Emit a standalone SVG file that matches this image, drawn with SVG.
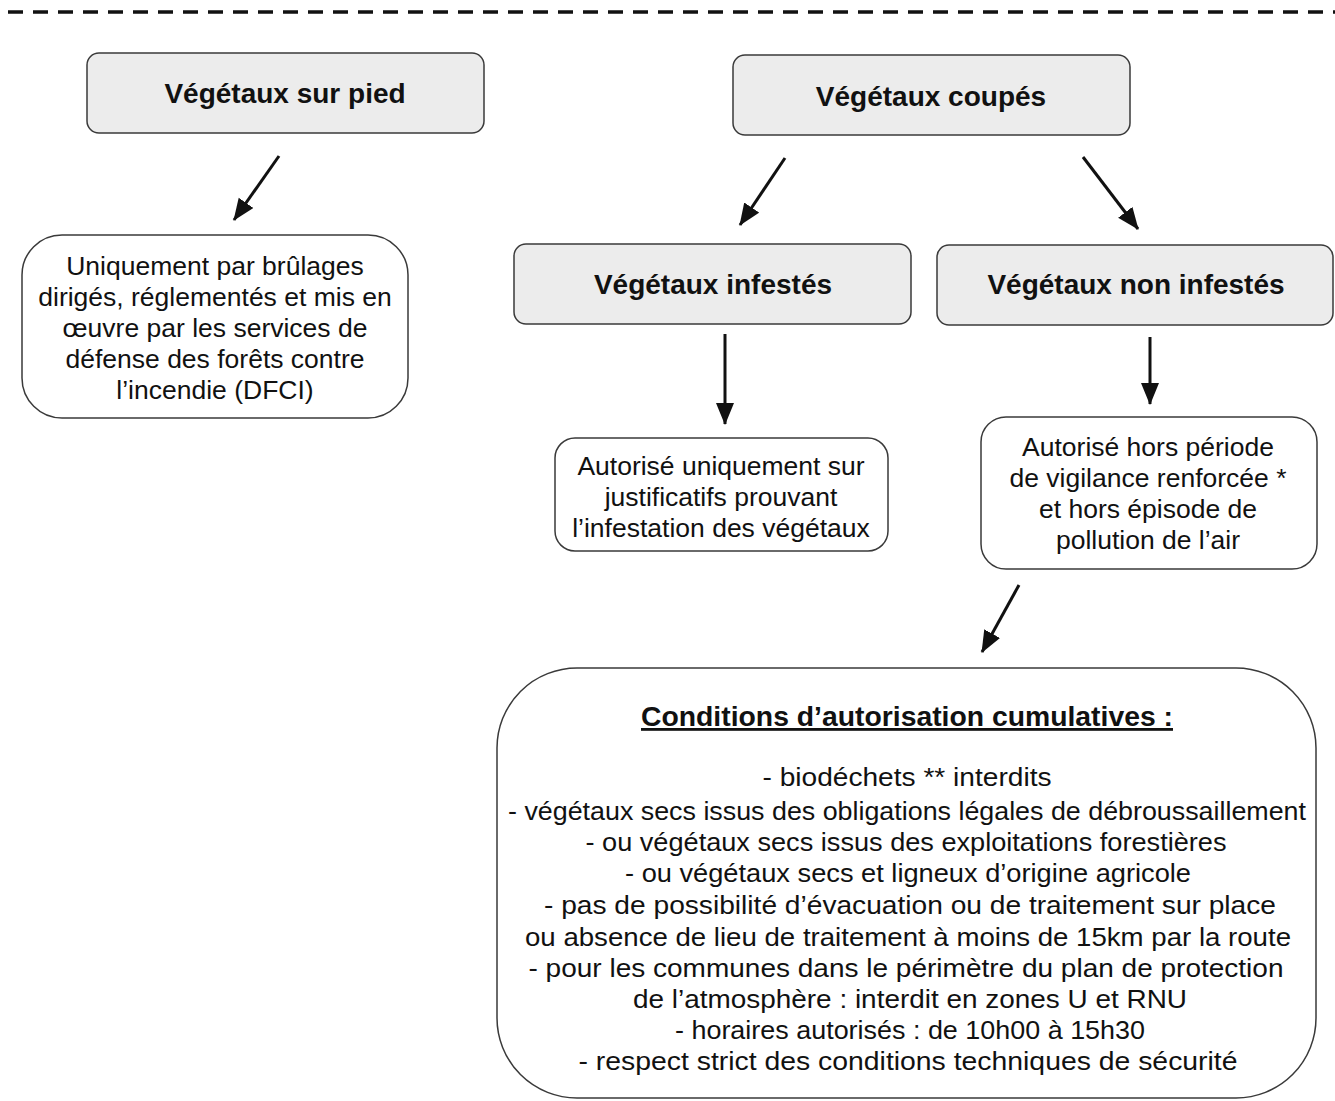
<svg xmlns="http://www.w3.org/2000/svg" width="1335" height="1101" viewBox="0 0 1335 1101">
<defs>
<marker id="ah" markerUnits="userSpaceOnUse" markerWidth="24" markerHeight="20" refX="21" refY="9" orient="auto">
<path d="M0,0 L22,9 L0,18 Z" fill="#111"/>
</marker>
</defs>
<style>
.hdr{fill:#ececec;stroke:#3a3a3a;stroke-width:1.5}
.box{fill:#ffffff;stroke:#3a3a3a;stroke-width:1.5}
.ht{font-family:"Liberation Sans",Arial,sans-serif;font-weight:bold;font-size:28px;fill:#111;text-anchor:middle}
.bt{font-family:"Liberation Sans",Arial,sans-serif;font-size:26.5px;fill:#111;text-anchor:middle}
.ch{font-family:"Liberation Sans",Arial,sans-serif;font-weight:bold;font-size:28px;fill:#111;text-anchor:middle}
.ct{font-family:"Liberation Sans",Arial,sans-serif;font-size:26px;fill:#111;text-anchor:middle}
.cl{stroke:#111;stroke-width:3;fill:none;marker-end:url(#ah)}
</style>
<rect width="1335" height="1101" fill="#ffffff"/>
<line x1="8" y1="12" x2="1335" y2="12" stroke="#111" stroke-width="3.5" stroke-dasharray="15,10"/>

<g id="connectors">
<line class="cl" x1="279" y1="156" x2="234" y2="220"/>
<line class="cl" x1="785" y1="158" x2="740" y2="225"/>
<line class="cl" x1="1083" y1="157" x2="1138" y2="229"/>
<line class="cl" x1="725" y1="334" x2="725" y2="424"/>
<line class="cl" x1="1150" y1="337" x2="1150" y2="404"/>
<line class="cl" x1="1019" y1="585" x2="982" y2="652"/>
</g>

<g id="n-sur-pied">
<rect class="hdr" x="87" y="53" width="397" height="80" rx="12"/>
<text class="ht" x="285" y="103">Végétaux sur pied</text>
</g>
<g id="n-coupes">
<rect class="hdr" x="733" y="55" width="397" height="80" rx="12"/>
<text class="ht" x="931" y="106">Végétaux coupés</text>
</g>
<g id="n-infestes">
<rect class="hdr" x="514" y="244" width="397" height="80" rx="12"/>
<text class="ht" x="713" y="294">Végétaux infestés</text>
</g>
<g id="n-non-infestes">
<rect class="hdr" x="937" y="245" width="396" height="80" rx="12"/>
<text class="ht" x="1136" y="294">Végétaux non infestés</text>
</g>
<g id="n-dfci">
<rect class="box" x="22" y="235" width="386" height="183" rx="40"/>
<text class="bt" x="215" y="275">Uniquement par brûlages</text>
<text class="bt" x="215" y="306">dirigés, réglementés et mis en</text>
<text class="bt" x="215" y="337">œuvre par les services de</text>
<text class="bt" x="215" y="368">défense des forêts contre</text>
<text class="bt" x="215" y="399">l’incendie (DFCI)</text>
</g>
<g id="n-justificatifs">
<rect class="box" x="555" y="438" width="333" height="113" rx="20"/>
<text class="bt" x="721" y="475">Autorisé uniquement sur</text>
<text class="bt" x="721" y="506">justificatifs prouvant</text>
<text class="bt" x="721" y="537">l’infestation des végétaux</text>
</g>
<g id="n-vigilance">
<rect class="box" x="981" y="417" width="336" height="152" rx="25"/>
<text class="bt" x="1148" y="456">Autorisé hors période</text>
<text class="bt" x="1148" y="487">de vigilance renforcée *</text>
<text class="bt" x="1148" y="518">et hors épisode de</text>
<text class="bt" x="1148" y="549">pollution de l’air</text>
</g>
<g id="n-conditions">
<rect class="box" x="497" y="668" width="819" height="430" rx="80"/>
<text class="ch" x="907" y="726" text-decoration="underline" textLength="532" lengthAdjust="spacingAndGlyphs">Conditions d’autorisation cumulatives :</text>
<text class="ct" x="907" y="786" textLength="289" lengthAdjust="spacingAndGlyphs">- biodéchets ** interdits</text>
<text class="ct" x="907" y="820" textLength="798" lengthAdjust="spacingAndGlyphs">- végétaux secs issus des obligations légales de débroussaillement</text>
<text class="ct" x="906" y="851" textLength="641" lengthAdjust="spacingAndGlyphs">- ou végétaux secs issus des exploitations forestières</text>
<text class="ct" x="908" y="882" textLength="566" lengthAdjust="spacingAndGlyphs">- ou végétaux secs et ligneux d’origine agricole</text>
<text class="ct" x="910" y="914" textLength="732" lengthAdjust="spacingAndGlyphs">- pas de possibilité d’évacuation ou de traitement sur place</text>
<text class="ct" x="908" y="946" textLength="766" lengthAdjust="spacingAndGlyphs">ou absence de lieu de traitement à moins de 15km par la route</text>
<text class="ct" x="906" y="977" textLength="755" lengthAdjust="spacingAndGlyphs">- pour les communes dans le périmètre du plan de protection</text>
<text class="ct" x="910" y="1008" textLength="554" lengthAdjust="spacingAndGlyphs">de l’atmosphère : interdit en zones U et RNU</text>
<text class="ct" x="910" y="1039" textLength="470" lengthAdjust="spacingAndGlyphs">- horaires autorisés : de 10h00 à 15h30</text>
<text class="ct" x="908" y="1070" textLength="659" lengthAdjust="spacingAndGlyphs">- respect strict des conditions techniques de sécurité</text>
</g>
</svg>
